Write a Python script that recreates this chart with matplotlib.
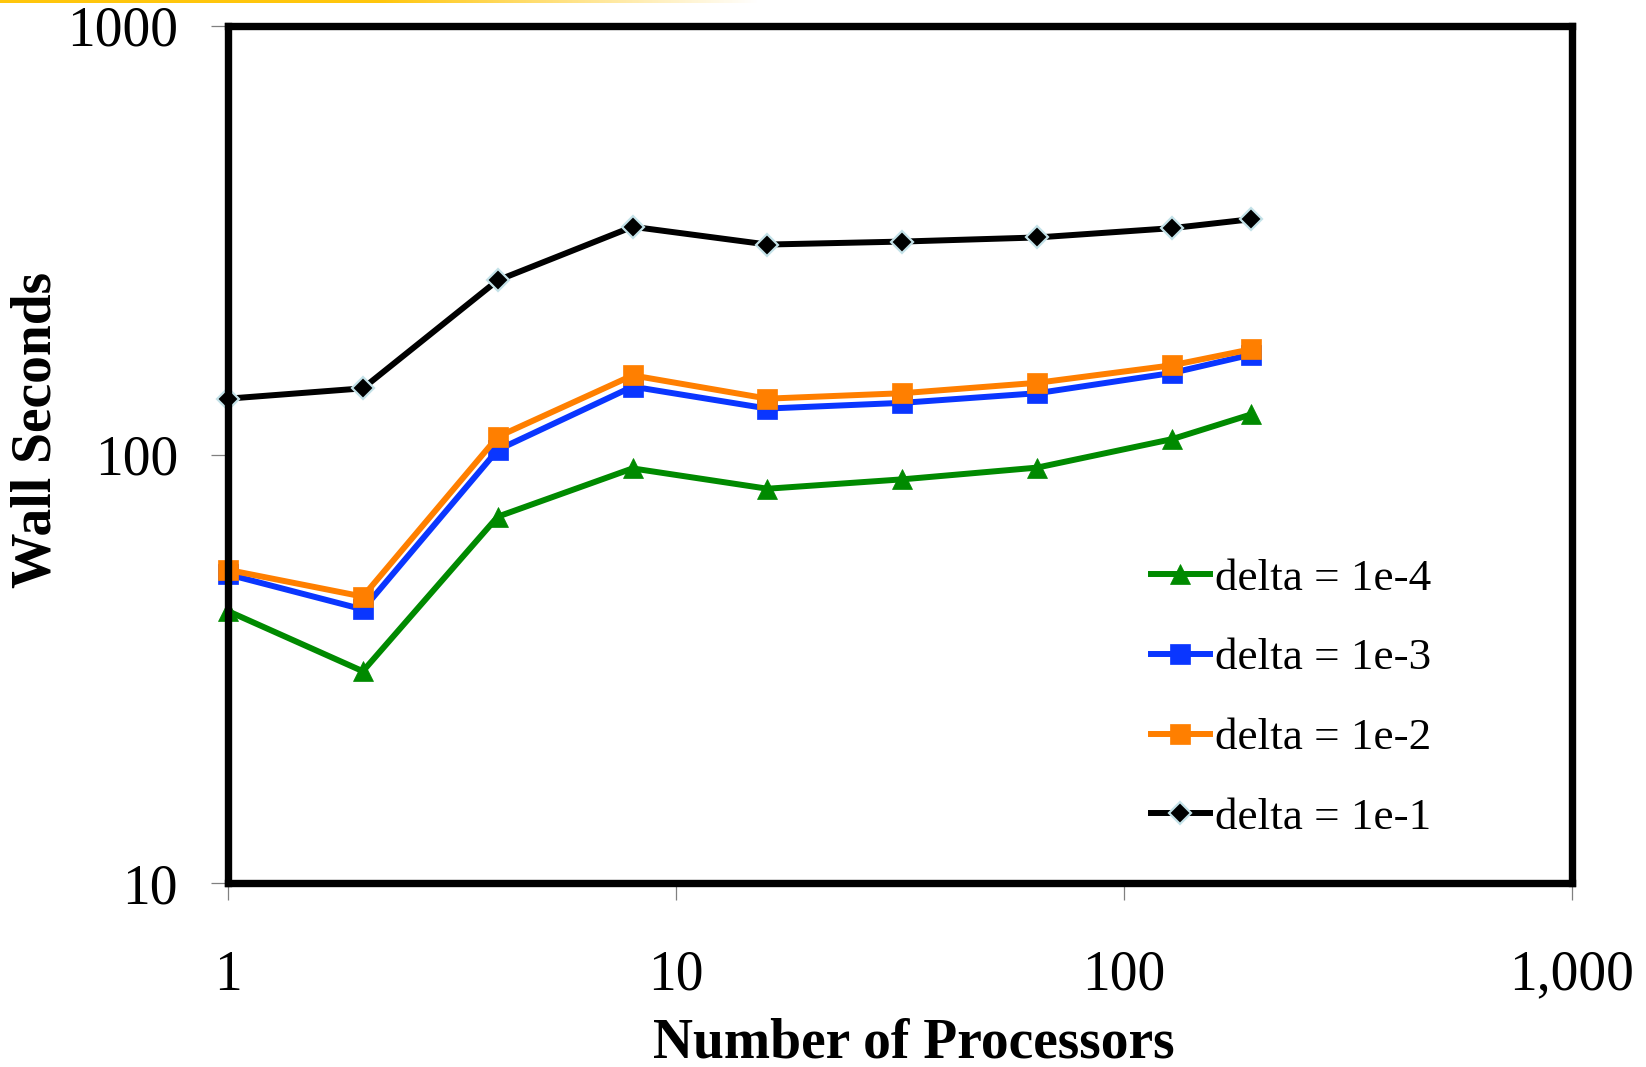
import numpy as np
import matplotlib
matplotlib.use("Agg")
import matplotlib.pyplot as plt
from matplotlib.ticker import FixedLocator, FixedFormatter, NullLocator

# Wall-clock time versus processor count for four tolerance settings
procs = [1, 2, 4, 8, 16, 32, 64, 128, 192]
delta_1e4 = [43.1, 31.2, 71.6, 92.8, 83.2, 87.5, 93.2, 108.6, 124.0]
delta_1e3 = [52.5, 43.5, 102.5, 144.0, 128.0, 132.0, 139.0, 155.0, 171.0]
delta_1e2 = [53.8, 46.6, 110.0, 153.0, 135.0, 139.0, 147.0, 161.5, 176.0]
delta_1e1 = [135.0, 142.7, 255.0, 340.0, 309.0, 314.0, 321.0, 337.5, 354.0]

labels = ["delta = 1e-4", "delta = 1e-3", "delta = 1e-2", "delta = 1e-1"]

x_ticks = [1, 10, 100, 1000]
x_tick_labels = ["1", "10", "100", "1,000"]
y_ticks = [10, 100, 1000]
y_tick_labels = ["10", "100", "1000"]

plt.rcParams["font.family"] = ["Liberation Serif", "DejaVu Serif"]

W, H = 1646, 1067
fig = plt.figure(figsize=(W / 100, H / 100), dpi=100)
ax = fig.add_axes([228 / W, 1 - 883 / H, (1572 - 228) / W, (883 - 26) / H])

styles = [
    dict(color="#008a00", marker="^", ms=15, mec="#008a00", mew=0.5),
    dict(color="#0a36ff", marker="s", ms=14, mec="#0a36ff", mew=0.5),
    dict(color="#ff7f00", marker="s", ms=14, mec="#ff7f00", mew=0.5),
    dict(color="#000000", marker="D", ms=11, mec="#c4e2e8", mew=1.6),
]
series = [delta_1e4, delta_1e3, delta_1e2, delta_1e1]

for vals, lab, st in zip(series, labels, styles):
    ax.plot(procs, vals, label=lab, lw=4.3, color=st["color"],
            marker=st["marker"], markersize=st["ms"],
            markerfacecolor=st["color"], markeredgecolor=st["mec"],
            markeredgewidth=st["mew"], solid_joinstyle="miter", clip_on=False)

ax.set_xscale("log")
ax.set_yscale("log")
ax.set_xlim(1, 1000)
ax.set_ylim(10, 1000)

ax.xaxis.set_major_locator(FixedLocator(x_ticks))
ax.xaxis.set_major_formatter(FixedFormatter(x_tick_labels))
ax.yaxis.set_major_locator(FixedLocator(y_ticks))
ax.yaxis.set_major_formatter(FixedFormatter(y_tick_labels))
ax.xaxis.set_minor_locator(NullLocator())
ax.yaxis.set_minor_locator(NullLocator())

ax.tick_params(axis="both", direction="out", length=12, width=0.9,
               color="#808080", labelsize=40)
ax.tick_params(axis="x", pad=36)
ax.tick_params(axis="y", pad=24)

for sp in ax.spines.values():
    sp.set_linewidth(5.3)
    sp.set_color("black")
    sp.set_capstyle("projecting")

ax.set_xlabel("Number of Processors", fontsize=40, fontweight="bold")
ax.set_ylabel("Wall Seconds", fontsize=40, fontweight="bold")
ax.xaxis.set_label_coords((914 - 228) / (1572 - 228), -(1017 - 883) / (883 - 26))
ax.yaxis.set_label_coords(-(228 - 36) / (1572 - 228), (883 - 430) / (883 - 26))
ax.yaxis.label.set_va("center")

leg = ax.legend(loc="upper left", bbox_to_anchor=(1151 / W, 1 - 558 / H),
                bbox_transform=fig.transFigure, frameon=False, fontsize=32.5,
                handlelength=1.3, handletextpad=0.12, labelspacing=0.87,
                borderpad=0, borderaxespad=0, numpoints=1)

# thin fading accent stripe along the top edge
stripe = fig.add_axes([0, 1 - 3 / H, 760 / W, 3 / H])
grad = np.zeros((1, 256, 4))
grad[..., 0] = 1.0
grad[..., 1] = 0.78
grad[..., 2] = 0.05
grad[..., 3] = np.concatenate([np.ones(128), np.linspace(1, 0, 128)])
stripe.imshow(grad, aspect="auto", extent=[0, 1, 0, 1])
stripe.set_axis_off()

fig.savefig("out.png", dpi=100)
